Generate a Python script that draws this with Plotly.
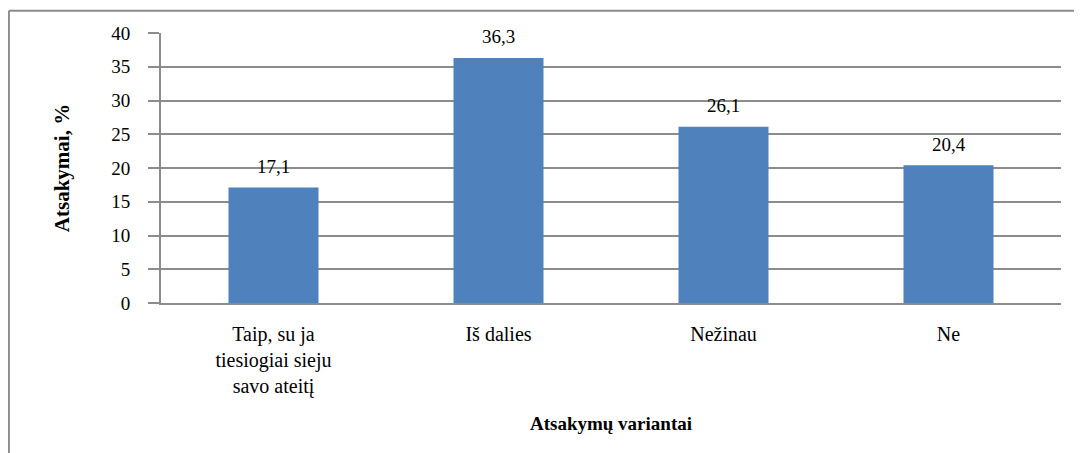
import plotly.graph_objects as go

categories = ["Taip, su ja<br>tiesiogiai sieju<br>savo ateitį", "Iš dalies", "Nežinau", "Ne"]
values = [17.1, 36.3, 26.1, 20.4]
value_labels = ["17,1", "36,3", "26,1", "20,4"]
y_ticks = [0, 5, 10, 15, 20, 25, 30, 35, 40]

FONT = "'Times New Roman', 'Liberation Serif', serif"
GRID = "#8c8c8c"

fig = go.Figure()
fig.add_trace(go.Bar(
    x=categories, y=values,
    marker=dict(color="#4F81BD", line=dict(width=0)),
    width=0.4,
    hoverinfo="skip",
))

for c, v, t in zip(categories, values, value_labels):
    fig.add_annotation(x=c, y=v, text=t, showarrow=False, yshift=21,
                       font=dict(family=FONT, size=19, color="#000000"))

# page body has an 8px margin; compensate so the plot lands where the reference has it
fig.update_layout(
    width=1082, height=453,
    margin=dict(l=153, r=29, t=25, b=158, autoexpand=False),
    paper_bgcolor="white", plot_bgcolor="white",
    showlegend=False,
    font=dict(family=FONT, color="#000000"),
    xaxis=dict(
        showline=True, linecolor=GRID, linewidth=2,
        ticks="", showgrid=False,
        tickfont=dict(family=FONT, size=20),
        ticklabelstandoff=12,
        automargin=False,
        title=dict(text="<b>Atsakymų variantai</b>", font=dict(family=FONT, size=19), standoff=20),
    ),
    yaxis=dict(
        range=[0, 40], tickvals=y_ticks,
        showline=True, linecolor=GRID, linewidth=2,
        showgrid=True, gridcolor=GRID, gridwidth=1.5,
        ticks="outside", ticklen=11, tickcolor=GRID, tickwidth=1.5,
        tickfont=dict(family=FONT, size=19),
        ticklabelstandoff=14,
        zeroline=False,
        automargin=False,
        title=dict(text="<b>Atsakymai, %</b>", font=dict(family=FONT, size=21), standoff=36),
    ),
)

# chart-area border (top and left visible)
fig.add_shape(type="line", xref="paper", yref="paper", x0=-0.169, x1=1.1, y0=1.0827, y1=1.0827,
              line=dict(color=GRID, width=2))
fig.add_shape(type="line", xref="paper", yref="paper", x0=-0.169, x1=-0.169, y0=1.0827, y1=-0.6,
              line=dict(color=GRID, width=2))

fig.write_html("out.html")
